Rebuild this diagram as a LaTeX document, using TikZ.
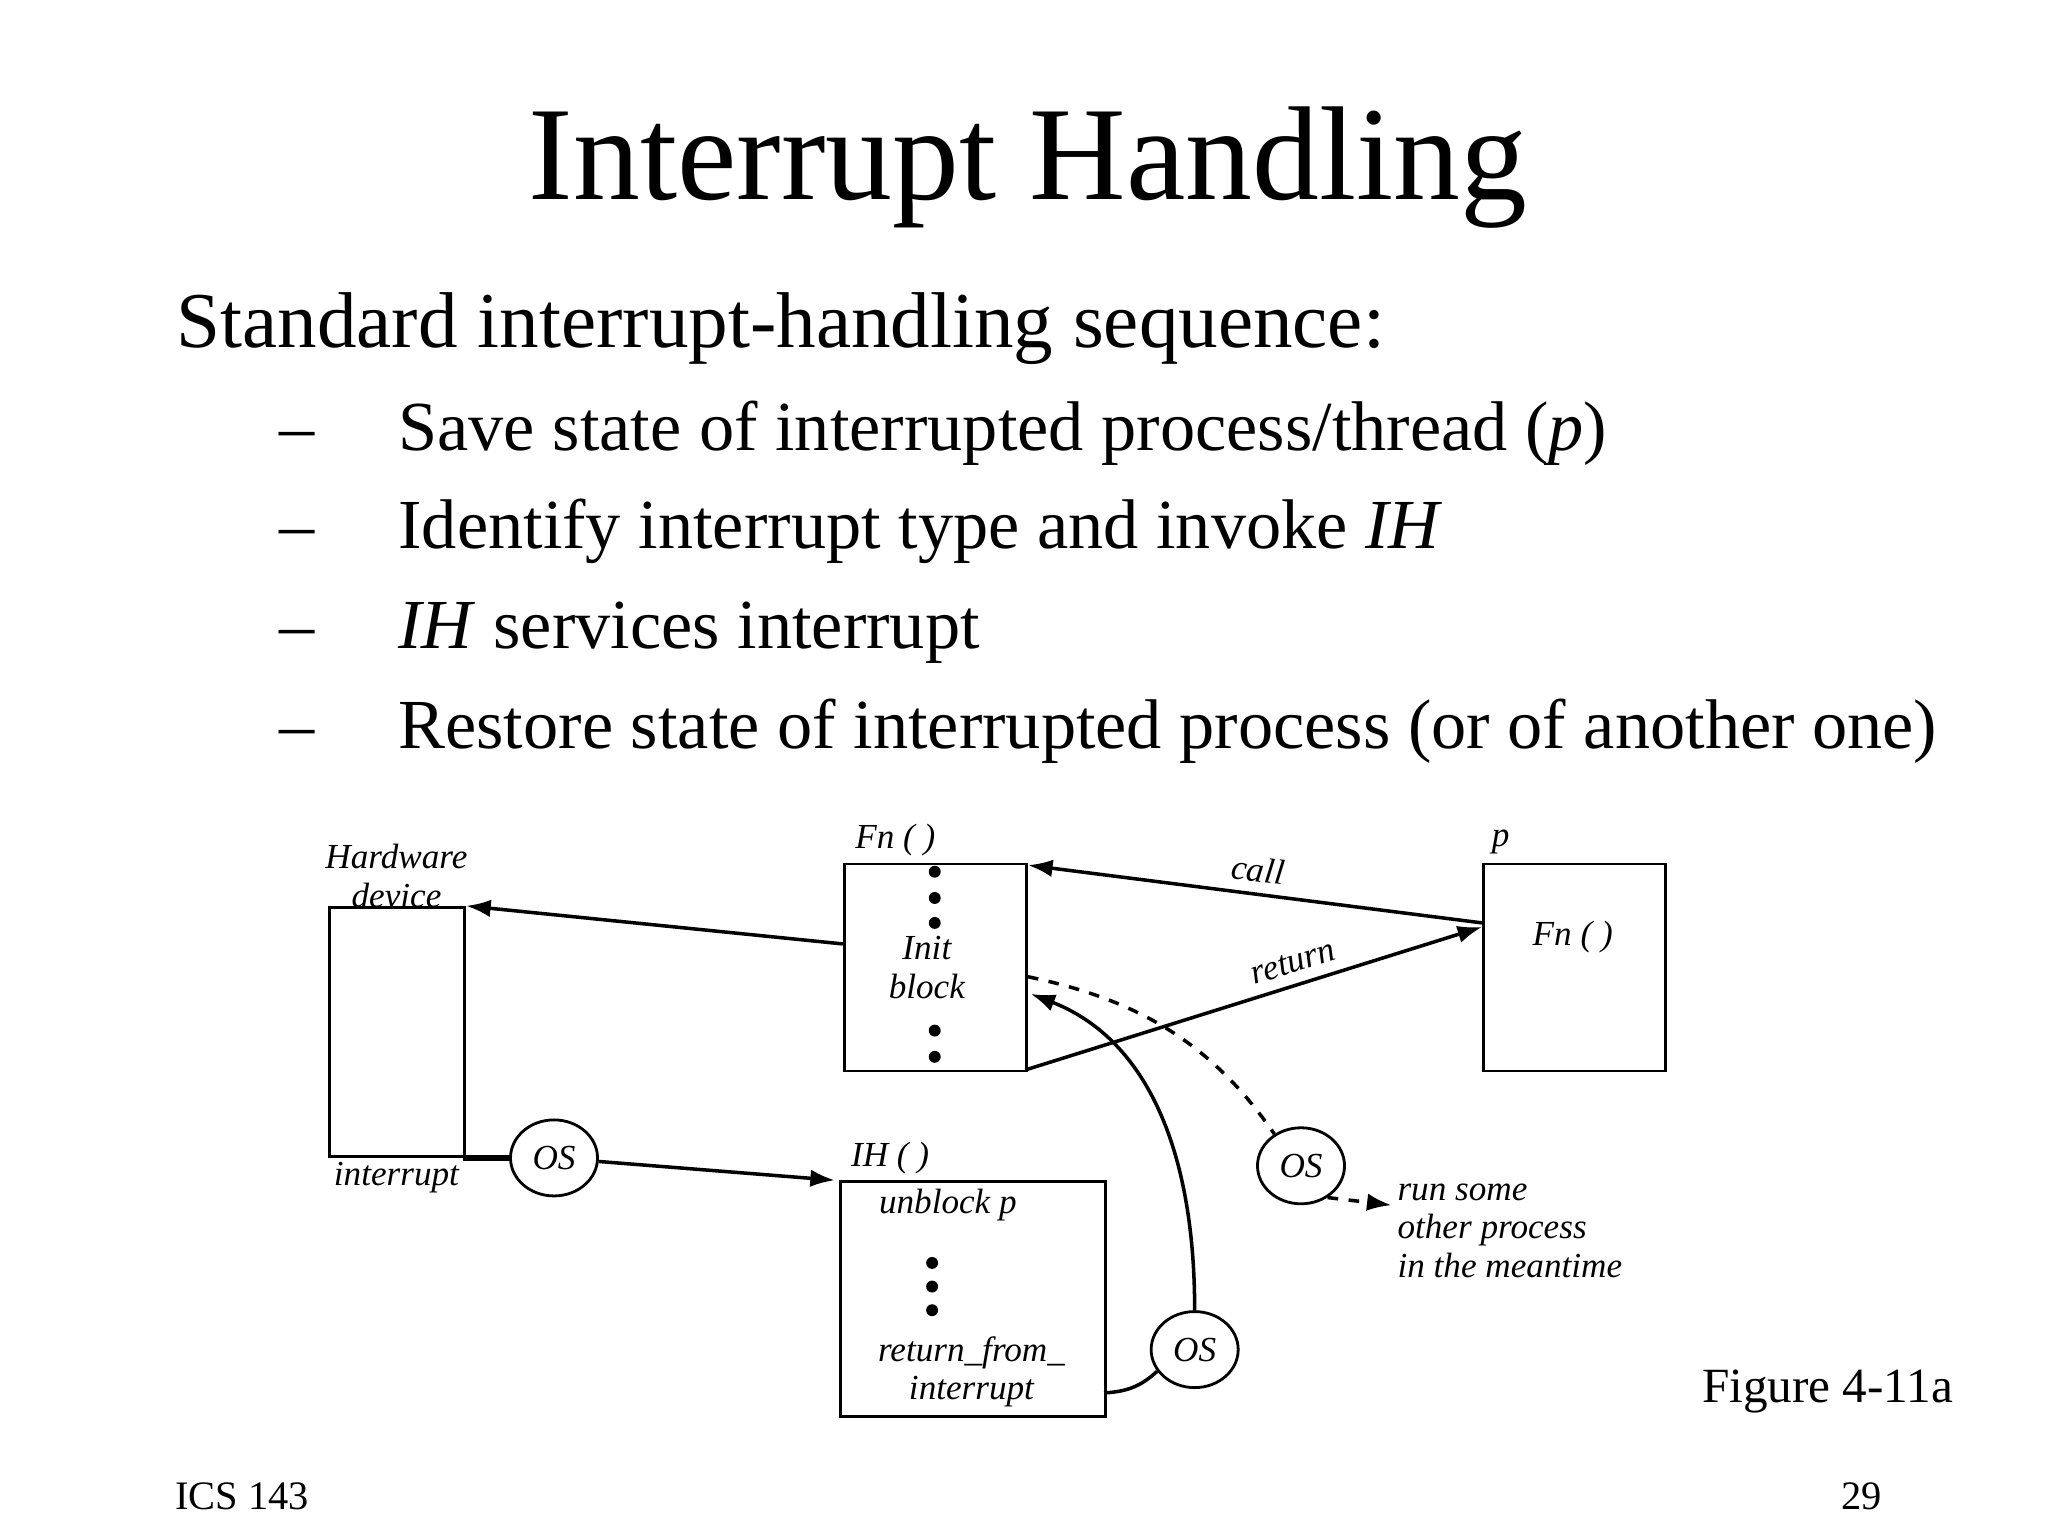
\documentclass[tikz,border=0pt]{standalone}
\usepackage{fontspec}
\setmainfont{Liberation Serif}
\usetikzlibrary{arrows.meta,shapes.geometric}
\begin{document}
\begin{tikzpicture}[x=0.01313cm,y=-0.01313cm,
  box/.style={draw,line width=0.8pt},
  lab/.style={font=\fontsize{10}{11}\selectfont\itshape,inner sep=0pt},
  os/.style={draw,ellipse,minimum width=66\pgflinewidth,line width=0.8pt,minimum width=0.87cm,minimum height=0.76cm,inner sep=0pt,font=\fontsize{10}{11}\selectfont\itshape},
  arr/.style={line width=1pt,-{Latex[length=7pt,width=5pt]}},
  dot/.style={circle,fill,inner sep=1.2pt}]
\useasboundingbox (0,0) rectangle (1560,1170);
\node[anchor=base,font=\fontsize{38}{40}\selectfont] (title) at (783,152) {Interrupt Handling};
\node[anchor=base west,inner sep=0pt,font=\fontsize{22.5}{24}\selectfont] (h) at (134,265) {Standard interrupt-handling sequence:};
\foreach \y/\t [count=\i] in {343/{Save state of interrupted process/thread (\textit{p})},418/{Identify interrupt type and invoke \textit{IH}},494/{\textit{IH} services interrupt},570/{Restore state of interrupted process (or of another one)}}{
  \node[anchor=base west,inner sep=0pt,font=\fontsize{20}{22}\selectfont] (d\i) at (212,\y) {--};
  \node[anchor=base west,inner sep=0pt,font=\fontsize{20}{22}\selectfont] (b\i) at (303,\y) {\t};
}
\node[anchor=base west,inner sep=0pt,font=\fontsize{14}{16}\selectfont] (fig) at (1296,1068) {Figure 4-11a};
\node[anchor=base west,inner sep=0pt,font=\fontsize{11.5}{13}\selectfont] (ics) at (133,1150) {ICS 143};
\node[anchor=base east,inner sep=0pt,font=\fontsize{11.5}{13}\selectfont] (pg) at (1434,1150) {29};
% boxes
\node[box,minimum width=1.35cm,minimum height=2.49cm,anchor=north west,inner sep=0pt] (hw) at (250,690) {};
\node[box,minimum width=1.82cm,minimum height=2.07cm,anchor=north west,inner sep=0pt] (fn) at (642,657) {};
\node[box,minimum width=1.82cm,minimum height=2.07cm,anchor=north west,inner sep=0pt] (pb) at (1129,657) {};
\node[box,minimum width=2.65cm,minimum height=2.35cm,anchor=north west,inner sep=0pt] (ih) at (639,899) {};
% labels
\node[lab,align=center] (hwl) at (302,667) {Hardware\\device};
\node[lab] (intl) at (302,897) {interrupt};
\node[lab] (fnl) at (682,640) {Fn ( )};
\node[lab] (pl) at (1143,641) {p};
\node[lab] (pfn) at (1198,714) {Fn ( )};
\node[lab,align=center] (init) at (706,737) {Init\\block};
\node[lab] (ihl) at (678,882) {IH ( )};
\node[lab] (unb) at (722,918) {unblock p};
\node[lab,align=center] (rfi) at (740,1045) {return\_from\_\\interrupt};
\node[lab,align=left,anchor=north west] (run) at (1064,901) {run some\\other process\\in the meantime};
\foreach \y [count=\i] in {664,684,703,785,805} \node[dot] (fd\i) at (712,\y) {};
\foreach \y [count=\i] in {962,980,998} \node[dot] (id\i) at (710,\y) {};
% OS circles
\node[os] (os1) at (422,882) {OS};
\node[os] (os2) at (991,888) {OS};
\node[os] (os3) at (910,1028) {OS};
% connectors
\coordinate (fnL) at (642,719);
\coordinate (hwTR) at (355,690);
\coordinate (pCall) at (1129,703);
\coordinate (fnTR) at (783,659);
\coordinate (fnBR) at (781,815);
\coordinate (pRet) at (1129,706);
\coordinate (hwR) at (353,882);
\coordinate (ihTL) at (636,899);
\coordinate (fnD) at (783,744);
\coordinate (fnA) at (785,757);
\coordinate (ihR) at (841,1061);
\coordinate (runA) at (1060,918);
\draw[arr] (fnL) -- (hwTR);
\draw[arr] (pCall) -- node[lab,above,sloped,yshift=3pt]{call} (fnTR);
\draw[arr] (fnBR) -- node[lab,above,sloped,pos=0.6,yshift=3pt]{return} (pRet);
\draw[line width=1.6pt] (hwR) -- (os1);
\draw[arr] (os1) -- (ihTL);
\draw[line width=1pt,dashed] (fnD) .. controls (860,760) and (920,790) .. (os2.130);
\draw[arr,dashed] (os2.-50) -- (runA);
\draw[line width=1pt] (ihR) .. controls (860,1060) and (870,1055) .. (os3.210);
\draw[arr] (os3.north) .. controls (910,870) and (870,790) .. (fnA);
\end{tikzpicture}
\end{document}
